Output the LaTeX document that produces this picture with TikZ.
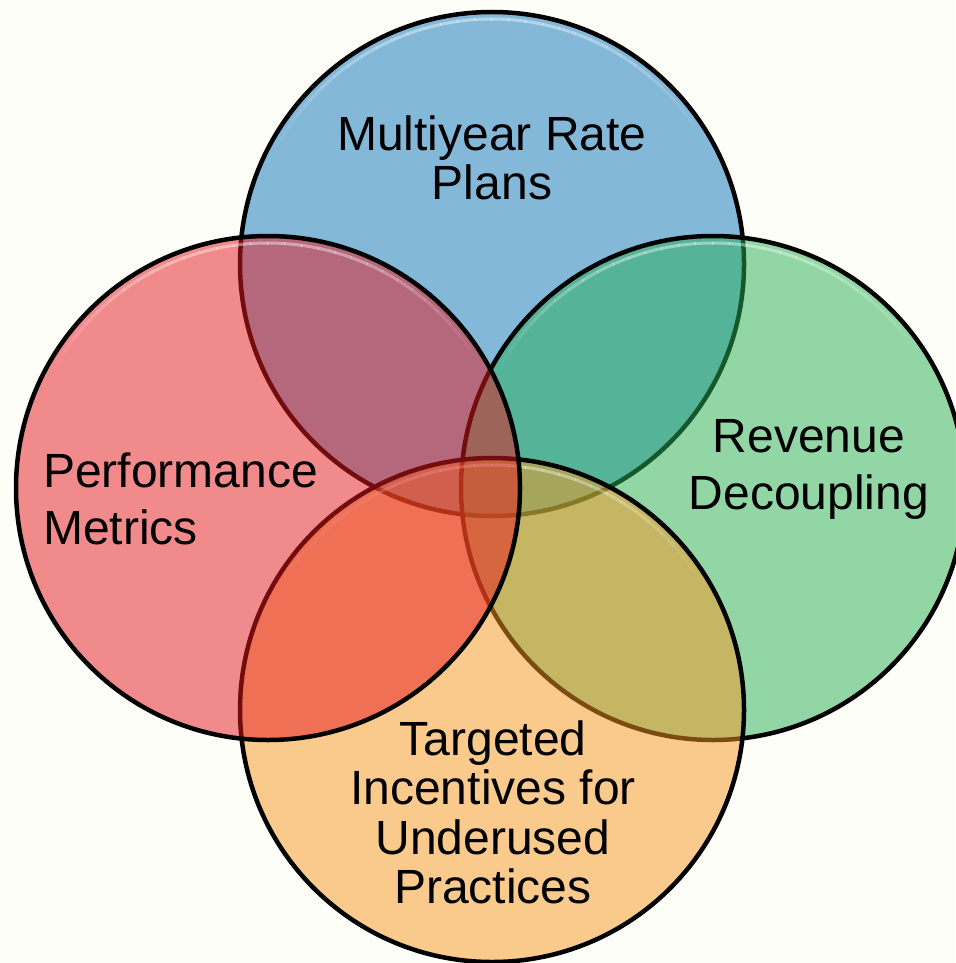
\documentclass[tikz,border=0pt]{standalone}
\usepackage{fontspec}
\setmainfont{Liberation Sans}
\usetikzlibrary{calc}
\definecolor{bgcream}{RGB}{254,254,248}
\definecolor{vblue}{RGB}{12,116,188}
\definecolor{vred}{RGB}{230,24,30}
\definecolor{vgreen}{RGB}{40,176,86}
\definecolor{vorange}{RGB}{246,152,34}
\begin{document}
\begin{tikzpicture}[x=1pt,y=-1pt,
  ring/.style={draw=black, line width=4.5pt, fill opacity=0.5},
  vlabel/.style={inner sep=0pt, anchor=base},
  vfont/.style={font=\fontsize{48}{#1}\selectfont}]

% canvas
\fill[bgcream] (0,0) rectangle (955,963);
\useasboundingbox (0,0) rectangle (955,963);

% circle centres
\coordinate (ctop)    at (492,264);
\coordinate (cright)  at (713,488);
\coordinate (cbottom) at (492,710);
\coordinate (cleft)   at (268,488);

% soft gloss along the upper rim of a circle
\newcommand{\rimgloss}[1]{%
  \foreach \a in {30,34,...,146}{%
    \pgfmathsetmacro{\op}{0.42*sin((\a-30)*1.5)}%
    \draw[white, line width=3pt, opacity=\op]
      ($(#1)+(\a:245pt)$) arc[start angle=\a, end angle=\a+4.2, radius=245pt];
  }%
}

% translucent circles, later ones laid over earlier ones
\path[ring, fill=vblue] (ctop) circle[radius=252pt];
\rimgloss{ctop}
\path[ring, fill=vgreen] (cright) circle[radius=252pt];
\rimgloss{cright}
\path[ring, fill=vorange] (cbottom) circle[radius=252pt];
\rimgloss{cbottom}
\path[ring, fill=vred] (cleft) circle[radius=252pt];
\rimgloss{cleft}

% labels
\node[vlabel, vfont=49] (tmulti) at (492,150)
  {\begin{tabular}[t]{@{}c@{}}Multiyear Rate\\Plans\end{tabular}};
\node[vlabel, vfont=57] (trev) at (809,452)
  {\begin{tabular}[t]{@{}c@{}}Revenue\\Decoupling\end{tabular}};
\node[vlabel, vfont=57, anchor=base west] (tperf) at (43,487)
  {\begin{tabular}[t]{@{}l@{}}Performance\\Metrics\end{tabular}};
\node[vlabel, vfont=49.5] (ttarget) at (493,755)
  {\begin{tabular}[t]{@{}c@{}}Targeted\\Incentives for\\Underused\\Practices\end{tabular}};
\end{tikzpicture}
\end{document}
